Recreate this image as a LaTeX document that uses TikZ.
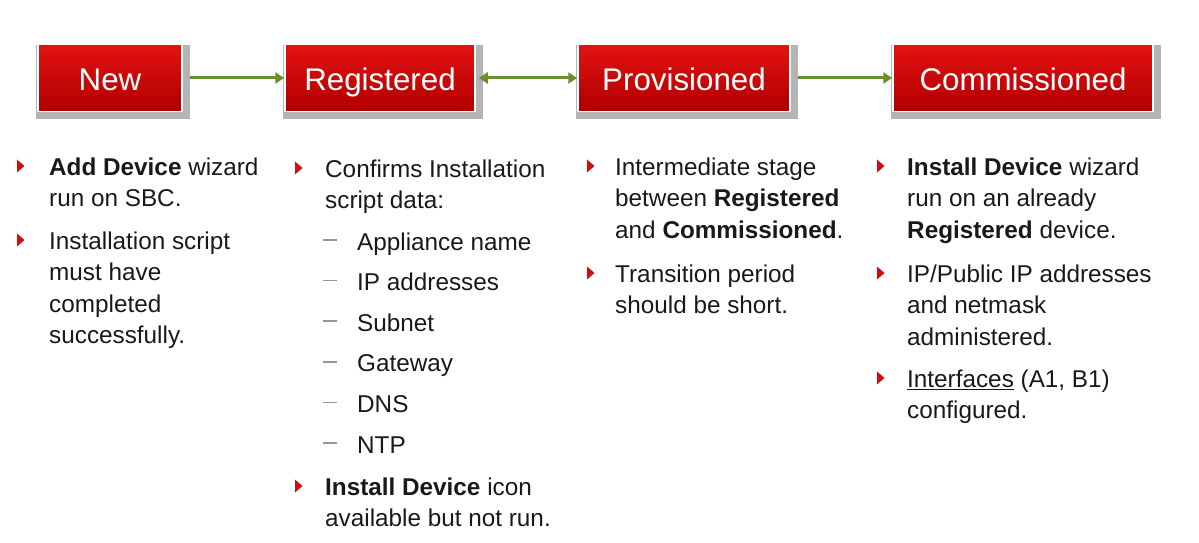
\documentclass[tikz,border=0pt]{standalone}
\usepackage{fontspec}
\setmainfont{Liberation Sans}
\usetikzlibrary{calc,arrows.meta}
\definecolor{boxtop}{RGB}{226,18,18}
\definecolor{boxbot}{RGB}{176,0,0}
\definecolor{shadowgray}{RGB}{180,180,180}
\definecolor{arrowgreen}{RGB}{104,142,46}
\definecolor{bulletred}{RGB}{205,15,15}
\definecolor{dashgray}{RGB}{150,150,150}
\definecolor{txt}{RGB}{25,25,25}
\newcommand\fl{\rule{0pt}{24bp}}
\pgfdeclarelayer{bg}\pgfsetlayers{bg,main}
\begin{document}
\begin{tikzpicture}[x=1bp,y=-1bp,
  stagebox/.style={minimum height=67bp, inner sep=0pt, top color=boxtop, bottom color=boxbot,
    draw=white, line width=1.5bp, text=white, text height=28bp, text depth=2bp,
    font=\fontsize{31.3bp}{36bp}\selectfont},
  flow/.style={draw=arrowgreen, line width=3bp, -{Triangle[length=9bp,width=11bp]}},
  body/.style={anchor=north west, inner sep=0pt, align=left, text=txt,
    font=\fontsize{24.3bp}{31.5bp}\selectfont},
  bullet/.style={fill=bulletred},
  subdash/.style={draw=dashgray, line width=1.5bp}]
\useasboundingbox (0,0) rectangle (1199,543);
% stage boxes
\node[stagebox, minimum width=144bp] (new)  at (110,78)  {New};
\node[stagebox, minimum width=190bp] (reg)  at (380,78)  {Registered};
\node[stagebox, minimum width=212bp] (prov) at (684,78)  {Provisioned};
\node[stagebox, minimum width=260bp] (comm) at (1023,78) {Commissioned};
\begin{pgfonlayer}{bg}
  \foreach \n in {new,reg,prov,comm}
    \fill[shadowgray] ($(\n.north west)+(-1,1)$) rectangle ($(\n.south east)+(7,7)$);
\end{pgfonlayer}
% connectors
\draw[flow, shorten <=7bp] (new) -- (reg);
\draw[flow, {Triangle[length=9bp,width=11bp]}-{Triangle[length=9bp,width=11bp]}, shorten <=3bp] (reg) -- (prov);
\draw[flow, shorten <=7bp] (prov) -- (comm);
% column 1 (node y = first baseline - 24)
\node[body] (n1) at (49,151) {\fl\textbf{Add Device} wizard\\run on SBC.};
\node[body] (n2) at (49,225) {\fl Installation script\\must have\\completed\\successfully.};
% column 2
\node[body] (r1) at (325,153) {\fl Confirms Installation\\script data:};
\node[body] (s1) at (357,226)   {\fl Appliance name};
\node[body] (s2) at (357,266.6) {\fl IP addresses};
\node[body] (s3) at (357,307.2) {\fl Subnet};
\node[body] (s4) at (357,347.8) {\fl Gateway};
\node[body] (s5) at (357,388.4) {\fl DNS};
\node[body] (s6) at (357,429)   {\fl NTP};
\node[body] (r2) at (325,471) {\fl\textbf{Install Device} icon\\available but not run.};
% column 3
\node[body] (p1) at (615,151) {\fl Intermediate stage\\between \textbf{Registered}\\and \textbf{Commissioned}.};
\node[body] (p2) at (615,258) {\fl Transition period\\should be short.};
% column 4
\node[body] (c1) at (907,151) {\fl\textbf{Install Device} wizard\\run on an already\\\textbf{Registered} device.};
\node[body] (c2) at (907,258) {\fl IP/Public IP addresses\\and netmask\\administered.};
\node[body] (c3) at (907,363) {\fl\underline{Interfaces} (A1, B1)\\configured.};
% bullets
\foreach \n/\d in {n1/32,n2/32,r1/30,r2/30,p1/28,p2/28,c1/30,c2/30,c3/30}
  \fill[bullet] ($(\n.north west)+(-\d,8.5)$) -- ++(7.5,6.5) -- ++(-7.5,6.5) -- cycle;
\foreach \n in {s1,s2,s3,s4,s5,s6}
  \draw[subdash] ($(\n.north west)+(-34,14)$) -- ++(14,0);
\end{tikzpicture}
\end{document}
